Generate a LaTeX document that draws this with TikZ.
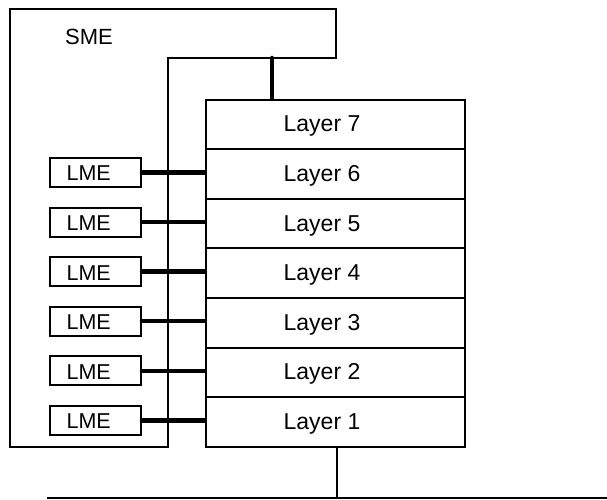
\documentclass[tikz,border=0pt]{standalone}
\usepackage{fontspec}
\setmainfont{Liberation Sans}
\begin{document}
\begin{tikzpicture}[x=1pt,y=-1pt,
  thin line/.style={line width=2pt},
  thick link/.style={line width=4.5pt,line cap=round},
  layerbox/.style={draw,line width=2pt,minimum width=259pt,minimum height=49.6pt,inner sep=0pt,anchor=center},
  lmebox/.style={draw,line width=2pt,minimum width=91pt,minimum height=29pt,inner sep=0pt},
  lmetext/.style={font=\fontsize{21.5}{25}\selectfont,inner sep=0pt},
  layertext/.style={font=\fontsize{23}{27}\selectfont,inner sep=0pt},
]
\useasboundingbox (0,0) rectangle (607,499);
% SME outline
\draw[thin line,line join=miter] (10,9) -- (336,9) -- (336,58) -- (168,58) -- (168,446.7) -- (10,446.7) -- cycle;
\node[font=\fontsize{22}{26}\selectfont,inner sep=0pt] (sme) at (89,37) {SME};
% layers
\foreach \k in {1,...,7}{
  \pgfmathsetmacro{\yc}{446.7-49.6*(\k-0.5)}
  \node[layerbox] (L\k) at (335,\yc) {};
  \node[layertext] (T\k) at (322,\yc+2) {Layer \k};
}
% LMEs
\foreach \k in {1,...,6}{
  \pgfmathsetmacro{\yc}{446.7-49.6*(\k-0.5)-1.5}
  \node[lmebox] (M\k) at (95.5,\yc) {};
  \node[lmetext] (MT\k) at (88.7,\yc+1) {LME};
  \draw[thick link] (M\k.east) -- (M\k.east -| L\k.west);
}
% top link SME - layer 7
\coordinate (smetop) at (272,58);
\draw[thick link] (smetop) -- (smetop |- L7.north);
% bottom bus
\coordinate (busL) at (47,497.5);
\coordinate (busR) at (607,497.5);
\coordinate (tap) at (337,497.5);
\draw[thin line] (busL) -- (busR);
\draw[thin line] (L1.south -| tap) -- (tap);
\end{tikzpicture}
\end{document}
